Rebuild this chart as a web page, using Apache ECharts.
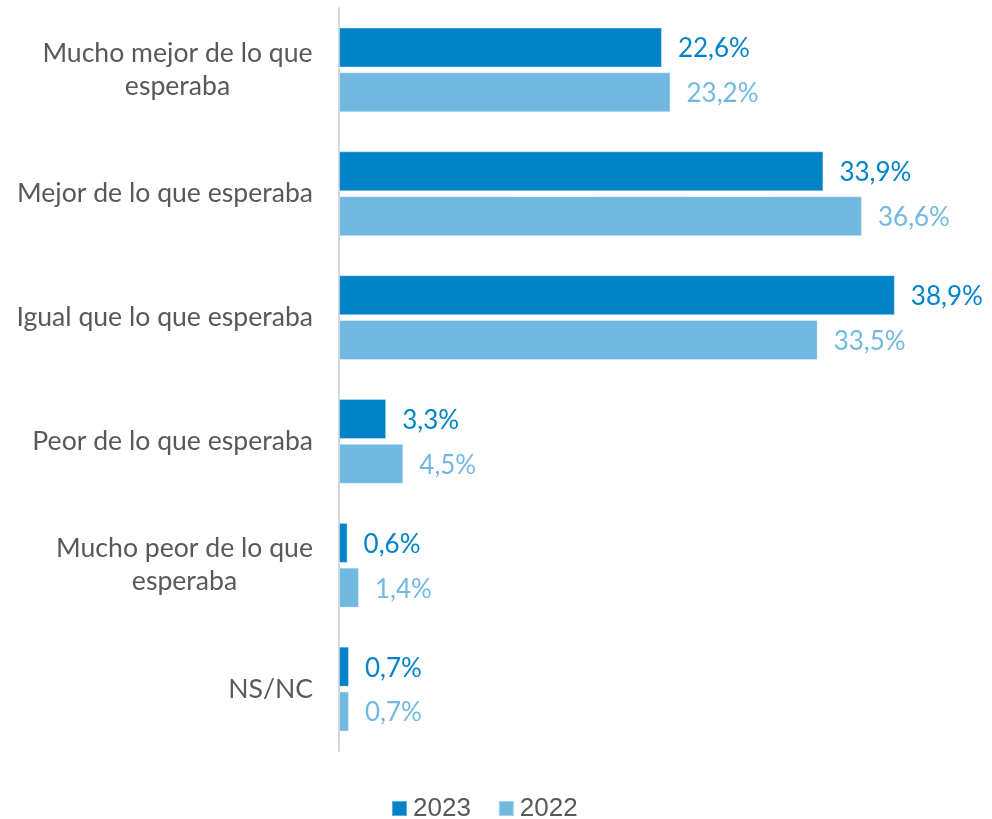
<!DOCTYPE html>
<html>
<head>
<meta charset="utf-8">
<script src="https://cdn.jsdelivr.net/npm/echarts@6/dist/echarts.min.js"></script>
<style>
  html, body { margin: 0; padding: 0; background: #ffffff; }
  #chart { width: 992px; height: 819px; }
</style>
</head>
<body>
<div id="chart"></div>
<script>
// Survey answers, top to bottom
const categories = [
  'Mucho mejor de lo que\nesperaba',
  'Mejor de lo que esperaba',
  'Igual que lo que esperaba',
  'Peor de lo que esperaba',
  'Mucho peor de lo que\nesperaba',
  'NS/NC'
];
const seriesNames = ['2023', '2022'];
const values2023 = [22.6, 33.9, 38.9, 3.3, 0.6, 0.7];
const values2022 = [23.2, 36.6, 33.5, 4.5, 1.4, 0.7];

const COLOR_2023 = '#0083c9';
const COLOR_2022 = '#71b9e0';
const TEXT_GREY = '#595959';
const LABEL_FONT = 'Lato, "Noto Sans", sans-serif';
const VALUE_SIZE = 26;
const CATEGORY_SIZE = 26.6;
const LINE_HEIGHT = 33;

// Measure text so each multi-line category label is centred on itself
const measureCtx = document.createElement('canvas').getContext('2d');
measureCtx.font = CATEGORY_SIZE + 'px ' + LABEL_FONT;
function lineWidth(s) { return Math.ceil(measureCtx.measureText(s).width); }
function blockWidth(label) { return Math.max.apply(null, label.split('\n').map(lineWidth)); }

function pct(v) { return v.toFixed(1).replace('.', ',') + '%'; }

function barSeries(name, data, color) {
  return {
    name: name,
    type: 'bar',
    data: data,
    barWidth: 40,
    barGap: '12%',
    itemStyle: { color: color, borderColor: 'rgba(255,255,255,0.35)', borderWidth: 1 },
    label: {
      show: true,
      position: 'right',
      distance: 16,
      offset: [0, 1.5],
      color: color,
      fontFamily: LABEL_FONT,
      fontSize: VALUE_SIZE,
      formatter: p => pct(p.value)
    }
  };
}

function buildOption() {
  // one rich style per wrapped label, as wide as its longest line
  const rich = {};
  categories.forEach(c => {
    if (c.indexOf('\n') >= 0) {
      const w = blockWidth(c);
      rich['c' + w] = {
        width: w, align: 'center', color: TEXT_GREY,
        fontFamily: LABEL_FONT, fontSize: CATEGORY_SIZE, lineHeight: LINE_HEIGHT
      };
    }
  });

  return {
    backgroundColor: '#ffffff',
    animation: false,
    grid: { left: 339, right: 10, top: 8, bottom: 68, outerBoundsMode: 'none', containLabel: false },
    xAxis: { type: 'value', min: 0, max: 45, show: false },
    yAxis: {
      type: 'category',
      inverse: true,
      data: categories,
      axisLine: { show: true, lineStyle: { color: '#d9d9d9', width: 2 } },
      axisTick: { show: false },
      splitLine: { show: false },
      axisLabel: {
        margin: 26,
        color: TEXT_GREY,
        fontFamily: LABEL_FONT,
        fontSize: CATEGORY_SIZE,
        lineHeight: LINE_HEIGHT,
        formatter: function (value) {
          if (value.indexOf('\n') < 0) return value;
          const w = blockWidth(value);
          return value.split('\n').map(l => '{c' + w + '|' + l + '}').join('\n');
        },
        rich: rich
      }
    },
    legend: {
      data: seriesNames,
      left: 391,
      top: 795,
      padding: 0,
      icon: 'rect',
      itemWidth: 15,
      itemHeight: 15,
      itemGap: 27,
      textStyle: {
        color: TEXT_GREY,
        fontFamily: '"Liberation Sans", Arial, sans-serif',
        fontSize: 26,
        lineHeight: 27,
        padding: [0, 0, 0, 1]
      }
    },
    series: [
      barSeries(seriesNames[0], values2023, COLOR_2023),
      barSeries(seriesNames[1], values2022, COLOR_2022)
    ]
  };
}

const chart = echarts.init(document.getElementById('chart'), null, { renderer: 'canvas' });
chart.setOption(buildOption());
</script>
</body>
</html>
